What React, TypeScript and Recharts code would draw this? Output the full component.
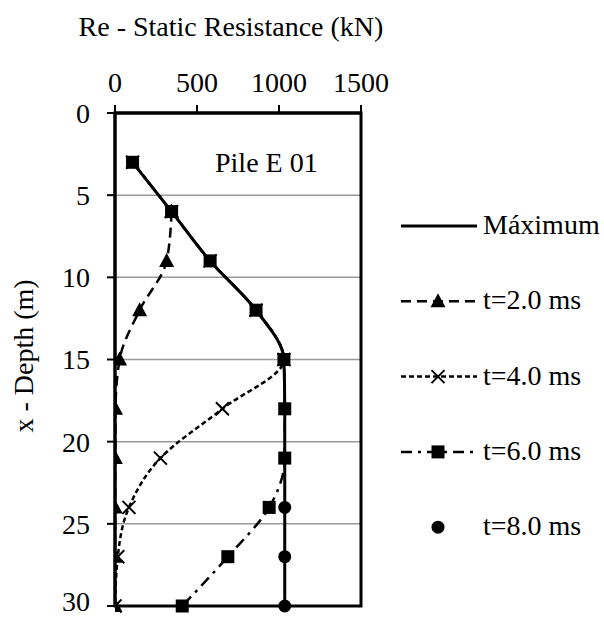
import { ComposedChart, Line, XAxis, YAxis, CartesianGrid, ReferenceArea } from "recharts";

const depths = [3, 6, 9, 12, 15, 18, 21, 24, 27, 30];
const maximum = [107, 345, 580, 860, 1030, 1035, 1035, 1035, 1035, 1035];
const t2 = [null, 345, 315, 150, 28, 3, 2, 1, 0, 0];
const t4 = [107, 345, 580, 860, 1030, 655, 277, 85, 17, 0];
const t6 = [107, 345, 580, 860, 1030, 1035, 1035, 940, 688, 410];
const t8 = [null, null, null, null, null, null, null, 1035, 1035, 1035];

const xTicks = [0, 500, 1000, 1500];
const yTicks = [0, 5, 10, 15, 20, 25, 30];

const data = depths.map((depth, i) => ({
  depth,
  maximum: maximum[i],
  t2: t2[i],
  t4: t4[i],
  t6: t6[i],
  t8: t8[i],
}));

const FONT = "Liberation Serif, DejaVu Serif, Times New Roman, serif";

type Mark = "triangle" | "cross" | "square" | "circle";

function marker(kind: Mark, cx: number, cy: number, key?: string | number) {
  if (kind === "triangle") {
    return <path key={key} d={`M${cx},${cy - 8} L${cx + 7.5},${cy + 6} L${cx - 7.5},${cy + 6} Z`} fill="#000" />;
  }
  if (kind === "cross") {
    return (
      <path
        key={key}
        d={`M${cx - 6.5},${cy - 6.5} L${cx + 6.5},${cy + 6.5} M${cx + 6.5},${cy - 6.5} L${cx - 6.5},${cy + 6.5}`}
        stroke="#000"
        strokeWidth={2}
        fill="none"
      />
    );
  }
  if (kind === "square") {
    return <rect key={key} x={cx - 6.5} y={cy - 6.5} width={13} height={13} fill="#000" />;
  }
  return <circle key={key} cx={cx} cy={cy} r={6.5} fill="#000" />;
}

function dotFor(kind: Mark) {
  return (props: any) => {
    const { cx, cy, index } = props;
    if (cx == null || cy == null || props.value == null) return <g key={index} />;
    return marker(kind, cx, cy, index);
  };
}

const legendRows: { label: string; dash?: string; mark?: Mark; line: boolean }[] = [
  { label: "Máximum", line: true },
  { label: "t=2.0 ms", dash: "10 6", mark: "triangle", line: true },
  { label: "t=4.0 ms", dash: "5 3", mark: "cross", line: true },
  { label: "t=6.0 ms", dash: "11 6 3 6", mark: "square", line: true },
  { label: "t=8.0 ms", mark: "circle", line: false },
];

const textStyle = { fontFamily: FONT, fontSize: 28, fill: "#000" };

export default function App() {
  return (
    <div style={{ position: "absolute", left: 0, top: 0, width: 604, height: 617, background: "#fff", fontFamily: FONT }}>
      <ComposedChart
        width={604}
        height={617}
        data={data}
        layout="vertical"
        margin={{ top: 63, right: 243, bottom: 11, left: 55 }}
      >
        <CartesianGrid vertical={false} stroke="#999" strokeWidth={1.5} />
        <XAxis
          type="number"
          orientation="top"
          domain={[0, 1500]}
          ticks={xTicks}
          height={50}
          tickSize={8}
          tickMargin={13}
          axisLine={{ stroke: "#000", strokeWidth: 3 }}
          tickLine={{ stroke: "#000", strokeWidth: 2 }}
          tick={{ ...textStyle, style: { fontFamily: FONT } }}
          allowDataOverflow
        />
        <YAxis
          type="number"
          dataKey="depth"
          domain={[0, 30]}
          ticks={yTicks}
          width={60}
          tickSize={8}
          tickMargin={17}
          axisLine={{ stroke: "#000", strokeWidth: 3 }}
          tickLine={{ stroke: "#000", strokeWidth: 2 }}
          tick={{ ...textStyle, style: { fontFamily: FONT } }}
        />
        <ReferenceArea x1={0} x2={1500} y1={0} y2={30} fill="none" stroke="#000" strokeWidth={3} ifOverflow="visible" />
        <Line dataKey="maximum" type="monotone" stroke="#000" strokeWidth={3} dot={false} isAnimationActive={false} />
        <Line
          dataKey="t2"
          type="monotone"
          stroke="#000"
          strokeWidth={2.5}
          strokeDasharray="10 6"
          dot={dotFor("triangle")}
          isAnimationActive={false}
        />
        <Line
          dataKey="t4"
          type="monotone"
          stroke="#000"
          strokeWidth={2.5}
          strokeDasharray="5 3"
          dot={dotFor("cross")}
          isAnimationActive={false}
        />
        <Line
          dataKey="t6"
          type="monotone"
          stroke="#000"
          strokeWidth={2.5}
          strokeDasharray="11 6 3 6"
          dot={dotFor("square")}
          isAnimationActive={false}
        />
        <Line
          dataKey="t8"
          type="monotone"
          stroke="none"
          strokeWidth={0}
          dot={dotFor("circle")}
          isAnimationActive={false}
        />
      </ComposedChart>

      <svg width={604} height={617} style={{ position: "absolute", left: 0, top: 0, pointerEvents: "none", fontFamily: FONT }}>
        <text x={231} y={36} textAnchor="middle" style={textStyle}>
          Re - Static Resistance (kN)
        </text>
        <text x={215} y={172} style={textStyle}>
          Pile E 01
        </text>
        <text transform="translate(33,356) rotate(-90)" textAnchor="middle" style={textStyle}>
          x - Depth (m)
        </text>
        {legendRows.map((row, i) => {
          const cy = 226 + i * 75.3;
          return (
            <g key={row.label}>
              {row.line && (
                <line
                  x1={401}
                  x2={477}
                  y1={cy}
                  y2={cy}
                  stroke="#000"
                  strokeWidth={row.dash ? 2.5 : 3}
                  strokeDasharray={row.dash}
                />
              )}
              {row.mark && marker(row.mark, 438, cy)}
              <text x={483} y={cy + 8} style={textStyle}>
                {row.label}
              </text>
            </g>
          );
        })}
      </svg>
    </div>
  );
}
